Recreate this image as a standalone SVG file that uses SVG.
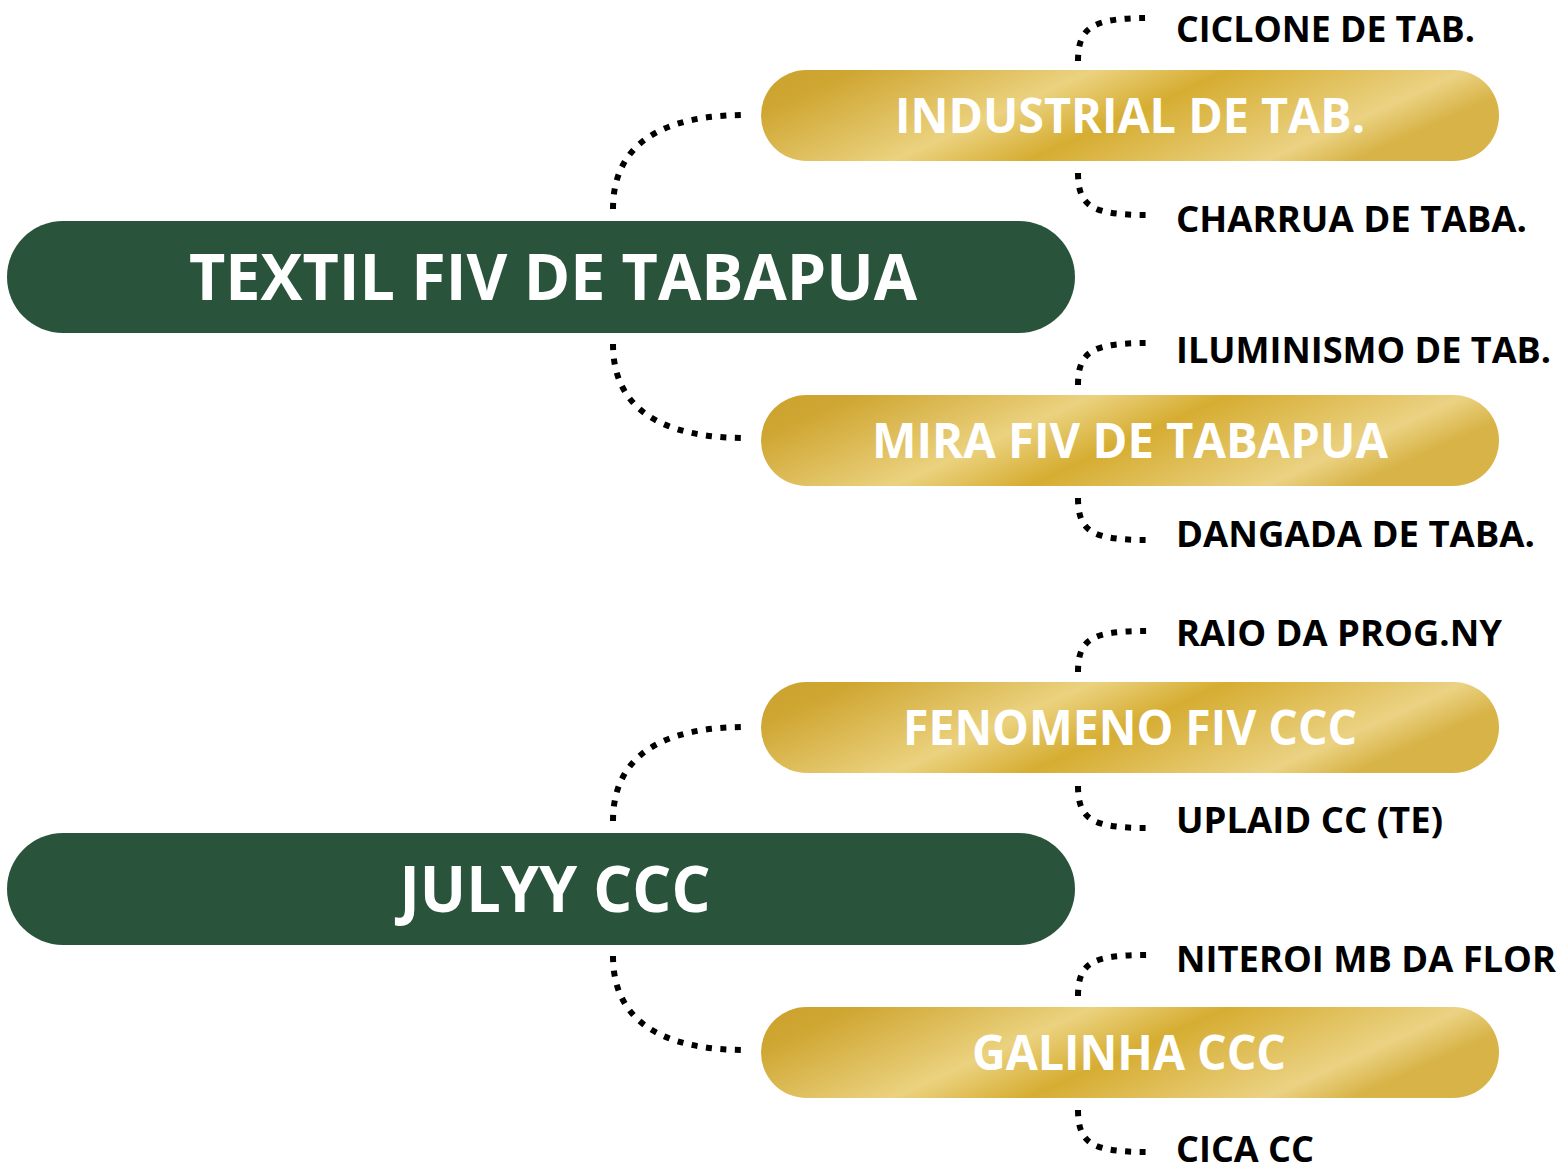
<svg xmlns="http://www.w3.org/2000/svg" width="1568" height="1173" viewBox="0 0 1568 1173">
  <defs>
    <linearGradient id="gold" x1="0" y1="0" x2="1" y2="0.274">
      <stop offset="0" stop-color="#CCA22D"/>
      <stop offset="0.12" stop-color="#CFA632"/>
      <stop offset="0.42" stop-color="#EBD27F"/>
      <stop offset="0.59" stop-color="#D6AD32"/>
      <stop offset="0.89" stop-color="#EBD283"/>
      <stop offset="1" stop-color="#D8B448"/>
    </linearGradient>
  </defs>
  <style>
    .main { fill: #29533A; }
    .sub { fill: url(#gold); }
    .mainText { font-family: "Open Sans", "DejaVu Sans", sans-serif; font-weight: 700; font-size: 64px; fill: #FFFFFF; text-anchor: middle; }
    .subText { font-family: "Open Sans", "DejaVu Sans", sans-serif; font-weight: 700; font-size: 48px; fill: #FFFFFF; text-anchor: middle; }
    .leafText { font-family: "Open Sans", "DejaVu Sans", sans-serif; font-weight: 700; font-size: 36.5px; fill: #000000; }
    .conn { fill: none; stroke: #000000; stroke-width: 6; stroke-dasharray: 6 8.5; }
  </style>

  <g id="connectors">
    <path class="conn" d="M613 209 C613 145 660 115 746 115"/>
    <path class="conn" d="M613 344 C613 408 660 438 746 438"/>
    <path class="conn" d="M613 821 C613 757 660 727 746 727"/>
    <path class="conn" d="M613 956 C613 1020 660 1050 746 1050"/>

    <path class="conn" d="M1078 61 C1078 26 1094 18 1149 18"/>
    <path class="conn" d="M1078 173 C1078 208 1094 215 1149 215"/>
    <path class="conn" d="M1078 385 C1078 350 1094 343 1149 343"/>
    <path class="conn" d="M1078 498 C1078 533 1094 540 1149 540"/>
    <path class="conn" d="M1078 672 C1078 637 1094 631 1149 631"/>
    <path class="conn" d="M1078 786 C1078 821 1094 828 1149 828"/>
    <path class="conn" d="M1078 996 C1078 961 1094 955 1149 955"/>
    <path class="conn" d="M1078 1110 C1078 1145 1094 1152 1149 1152"/>
  </g>

  <g id="node-textil">
    <rect class="main" x="7" y="221" width="1068" height="112" rx="56" ry="56"/>
    <text class="mainText" x="553" y="300" textLength="728" lengthAdjust="spacingAndGlyphs">TEXTIL FIV DE TABAPUA</text>
  </g>
  <g id="node-julyy">
    <rect class="main" x="7" y="833" width="1068" height="112" rx="56" ry="56"/>
    <text class="mainText" x="555" y="912" textLength="311" lengthAdjust="spacingAndGlyphs">JULYY CCC</text>
  </g>

  <g id="node-industrial">
    <rect class="sub" x="761" y="70" width="738" height="91" rx="45.5" ry="45.5"/>
    <text class="subText" x="1130" y="133" textLength="470" lengthAdjust="spacingAndGlyphs">INDUSTRIAL DE TAB.</text>
  </g>
  <g id="node-mira">
    <rect class="sub" x="761" y="395" width="738" height="91" rx="45.5" ry="45.5"/>
    <text class="subText" x="1130" y="458" textLength="516" lengthAdjust="spacingAndGlyphs">MIRA FIV DE TABAPUA</text>
  </g>
  <g id="node-fenomeno">
    <rect class="sub" x="761" y="682" width="738" height="91" rx="45.5" ry="45.5"/>
    <text class="subText" x="1130" y="745" textLength="454" lengthAdjust="spacingAndGlyphs">FENOMENO FIV CCC</text>
  </g>
  <g id="node-galinha">
    <rect class="sub" x="761" y="1007" width="738" height="91" rx="45.5" ry="45.5"/>
    <text class="subText" x="1129" y="1070" textLength="314" lengthAdjust="spacingAndGlyphs">GALINHA CCC</text>
  </g>

  <g id="leaf-ciclone"><text class="leafText" x="1176" y="42" textLength="299" lengthAdjust="spacingAndGlyphs">CICLONE DE TAB.</text></g>
  <g id="leaf-charrua"><text class="leafText" x="1176" y="232" textLength="351" lengthAdjust="spacingAndGlyphs">CHARRUA DE TABA.</text></g>
  <g id="leaf-iluminismo"><text class="leafText" x="1176" y="363" textLength="375" lengthAdjust="spacingAndGlyphs">ILUMINISMO DE TAB.</text></g>
  <g id="leaf-dangada"><text class="leafText" x="1176" y="547" textLength="359" lengthAdjust="spacingAndGlyphs">DANGADA DE TABA.</text></g>
  <g id="leaf-raio"><text class="leafText" x="1176" y="646" textLength="326" lengthAdjust="spacingAndGlyphs">RAIO DA PROG.NY</text></g>
  <g id="leaf-uplaid"><text class="leafText" x="1176" y="833" textLength="267" lengthAdjust="spacingAndGlyphs">UPLAID CC (TE)</text></g>
  <g id="leaf-niteroi"><text class="leafText" x="1176" y="972" textLength="380" lengthAdjust="spacingAndGlyphs">NITEROI MB DA FLOR</text></g>
  <g id="leaf-cica"><text class="leafText" x="1176" y="1162" textLength="138" lengthAdjust="spacingAndGlyphs">CICA CC</text></g>
</svg>
